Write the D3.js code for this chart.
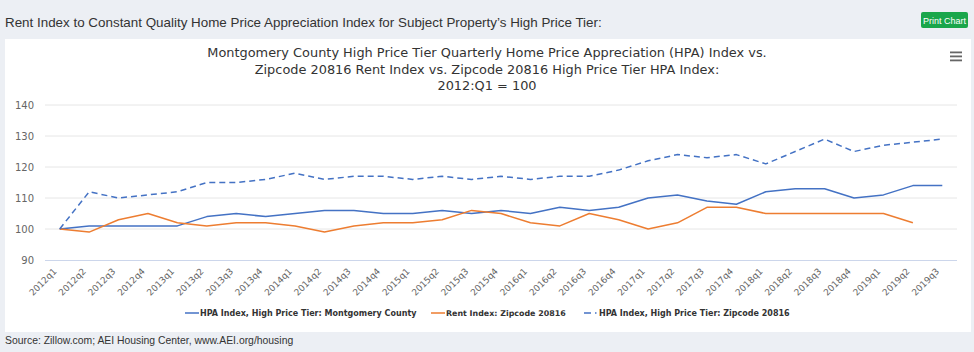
<!DOCTYPE html>
<html>
<head>
<meta charset="utf-8">
<script src="https://cdn.jsdelivr.net/npm/d3@7"></script>
<style>
  body { margin: 0; background: #eceff4; }
  svg { display: block; }
</style>
</head>
<body>
<div id="chart"></div>
<script>
// quarters on the x axis
const quarters = [
  '2012q1','2012q2','2012q3','2012q4','2013q1','2013q2','2013q3','2013q4',
  '2014q1','2014q2','2014q3','2014q4','2015q1','2015q2','2015q3','2015q4',
  '2016q1','2016q2','2016q3','2016q4','2017q1','2017q2','2017q3','2017q4',
  '2018q1','2018q2','2018q3','2018q4','2019q1','2019q2','2019q3'
];
const hpaCounty = [100,101,101,101,101,104,105,104,105,106,106,105,105,106,105,106,
                   105,107,106,107,110,111,109,108,112,113,113,110,111,114,114];
const rentZip   = [100,99,103,105,102,101,102,102,101,99,101,102,102,103,106,105,
                   102,101,105,103,100,102,107,107,105,105,105,105,105,102,null];
const hpaZip    = [100,112,110,111,112,115,115,116,118,116,117,117,116,117,116,117,
                   116,117,117,119,122,124,123,124,121,125,129,125,127,128,129];
const yTicks = [90,100,110,120,130,140];

const seriesNames = [
  'HPA Index, High Price Tier: Montgomery County',
  'Rent Index: Zipcode 20816',
  'HPA Index, High Price Tier: Zipcode 20816'
];
const seriesValues = [ hpaCounty, rentZip, hpaZip ];
const seriesColors = [ '#4472c4', '#ed7d31', '#4472c4' ];
const seriesDash   = [ null, null, '6,4' ];

const figure_width = 974, figure_height = 352;
const plot = { left: 45, right: 957, top: 105, bottom: 260 };

const svg = d3.select('#chart').append('svg')
  .attr('width', figure_width)
  .attr('height', figure_height);

// page heading, button, panel
svg.append('text')
  .attr('x', 5).attr('y', 27)
  .attr('style', 'font-size:13.4px; font-family:Liberation Sans, Arial; fill:#333;')
  .text('Rent Index to Constant Quality Home Price Appreciation Index for Subject Property\u2019s High Price Tier:');

svg.append('rect')
  .attr('x', 921).attr('y', 12).attr('width', 47).attr('height', 16).attr('rx', 2)
  .attr('fill', '#1aa64b');
svg.append('text')
  .attr('x', 944.5).attr('y', 23.5).attr('text-anchor', 'middle')
  .attr('style', 'font-size:9px; font-family:Liberation Sans, Arial; fill:#fff;')
  .text('Print Chart');

svg.append('rect')
  .attr('x', 5).attr('y', 39).attr('width', 966).attr('height', 293)
  .attr('fill', '#fff');

svg.append('text')
  .attr('x', 5).attr('y', 344)
  .attr('style', 'font-size:10.4px; font-family:Liberation Sans, Arial; fill:#333;')
  .text('Source: Zillow.com; AEI Housing Center, www.AEI.org/housing');

// hamburger menu
[0, 4, 8].forEach(function(dy) {
  svg.append('rect')
    .attr('x', 950).attr('y', 51.5 + dy).attr('width', 12).attr('height', 1.8)
    .attr('fill', '#666');
});

// chart title
const titleLines = [
  'Montgomery County High Price Tier Quarterly Home Price Appreciation (HPA) Index vs.',
  'Zipcode 20816 Rent Index vs. Zipcode 20816 High Price Tier HPA Index:',
  '2012:Q1 = 100'
];
svg.append('text')
  .attr('text-anchor', 'middle')
  .attr('style', 'font-size:12.9px; font-family:DejaVu Sans; fill:#333;')
  .selectAll('tspan')
  .data(titleLines)
  .enter().append('tspan')
    .attr('x', 487)
    .attr('y', function(d, i) { return 57 + i * 16.5; })
    .text(function(d) { return d; });

// scales
const x = d3.scalePoint()
  .domain(quarters)
  .range([plot.left, plot.right])
  .padding(0.5);
const y = d3.scaleLinear()
  .domain([90, 140])
  .range([plot.bottom, plot.top]);

// grid
svg.append('g')
  .selectAll('line')
  .data(yTicks.slice(1))
  .enter().append('line')
    .attr('x1', plot.left).attr('x2', plot.right)
    .attr('y1', function(d) { return y(d); })
    .attr('y2', function(d) { return y(d); })
    .attr('stroke', '#e6e6e6');

// y axis labels
const yAxis = svg.append('g')
  .attr('transform', 'translate(' + plot.left + ',0)')
  .call(d3.axisLeft(y).tickValues(yTicks).tickSize(0).tickPadding(11))
  .attr('style', 'font-size:10px; font-family:DejaVu Sans;');
yAxis.select('.domain').remove();
yAxis.selectAll('text').attr('fill', '#666');

// x axis
const xAxis = svg.append('g')
  .attr('transform', 'translate(0,' + plot.bottom + ')')
  .call(d3.axisBottom(x).tickSize(0).tickPadding(0))
  .attr('style', 'font-size:9px; font-family:DejaVu Sans;');
xAxis.select('.domain').attr('stroke', '#ccd6eb').attr('d', 'M' + plot.left + ',0.5H' + plot.right);
xAxis.selectAll('text')
  .attr('fill', '#666')
  .attr('text-anchor', 'end')
  .attr('dy', null)
  .attr('y', 0)
  .attr('transform', 'translate(-3,12) rotate(-45)');

// lines
const line = d3.line()
  .defined(function(d) { return d.v != null; })
  .x(function(d) { return x(d.q); })
  .y(function(d) { return y(d.v); });

seriesValues.forEach(function(vals, i) {
  const pts = quarters.map(function(q, j) { return { q: q, v: vals[j] }; });
  svg.append('path')
    .datum(pts)
    .attr('fill', 'none')
    .attr('stroke', seriesColors[i])
    .attr('stroke-width', 1.5)
    .attr('stroke-dasharray', seriesDash[i])
    .attr('stroke-linejoin', 'round')
    .attr('d', line);
});

// legend
// symbol start and text width of each item, as in the original
const legendX = [ 185, 431, 584 ];
const legendTextWidth = [ 217, 120, 191 ];
const legend = svg.append('g')
  .selectAll('g')
  .data(seriesNames)
  .enter().append('g')
    .attr('transform', function(d, i) { return 'translate(' + legendX[i] + ',313)'; });
legend.append('line')
  .attr('x1', 0).attr('x2', 14)
  .attr('stroke', function(d, i) { return seriesColors[i]; })
  .attr('stroke-width', 1.5)
  .attr('stroke-dasharray', function(d, i) { return i == 2 ? '7,4,1.5,4' : null; });
legend.append('text')
  .attr('x', 15)
  .attr('y', 3.3)
  .attr('style', 'font-size:9px; font-weight:bold; font-family:DejaVu Sans; fill:#333;')
  .text(function(d) { return d; })
  .each(function(d, i) {
    // shrink the font until the label is as wide as in the original
    const w = this.getComputedTextLength();
    d3.select(this).style('font-size', (9 * legendTextWidth[i] / w) + 'px');
  });
</script>
</body>
</html>
